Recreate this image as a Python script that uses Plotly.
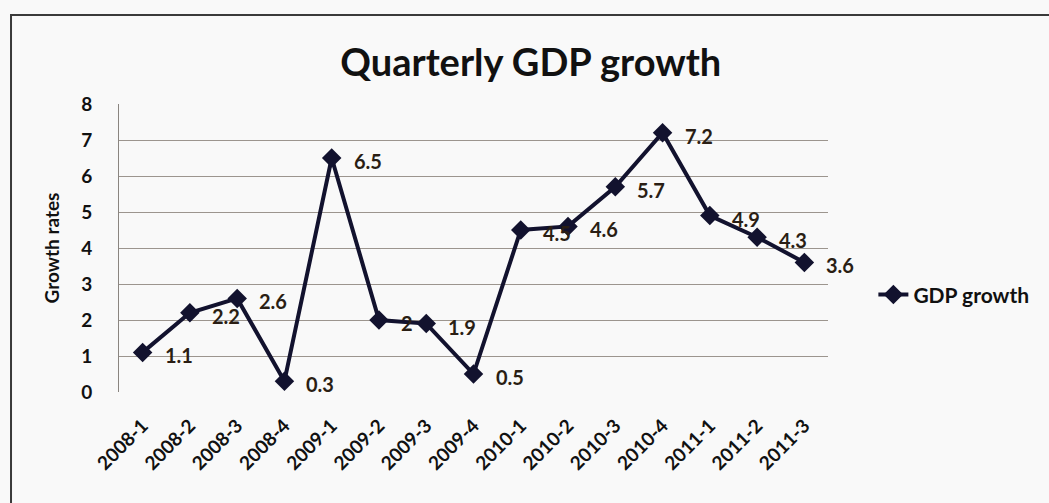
import plotly.graph_objects as go

# Quarterly GDP growth, 2008 Q1 - 2011 Q3
quarters = ["2008-1", "2008-2", "2008-3", "2008-4",
            "2009-1", "2009-2", "2009-3", "2009-4",
            "2010-1", "2010-2", "2010-3", "2010-4",
            "2011-1", "2011-2", "2011-3"]
gdp_growth = [1.1, 2.2, 2.6, 0.3, 6.5, 2, 1.9, 0.5,
              4.5, 4.6, 5.7, 7.2, 4.9, 4.3, 3.6]
y_ticks = [0, 1, 2, 3, 4, 5, 6, 7, 8]

FONT = "Lato"
INK = "#111111"
LINE = "#12122e"
BG = "#f9f9f9"

fig = go.Figure()
fig.add_trace(go.Scatter(
    x=quarters, y=gdp_growth, mode="lines+markers", name="GDP growth",
    line=dict(color=LINE, width=4),
    marker=dict(symbol="diamond", size=15, color=LINE),
))

# value labels to the right of each point
for q, v in zip(quarters, gdp_growth):
    fig.add_annotation(
        x=q, y=v, text=f"{v:g}", showarrow=False,
        xanchor="left", yanchor="middle", xshift=20, yshift=-3,
        font=dict(family=FONT, size=20, color="#2a1e14", weight="bold"),
    )

# chart frame (left and top edges)
fig.add_shape(type="path", xref="paper", yref="paper",
              path="M -0.1523 -1 L -0.1523 1.309 L 1.6 1.309",
              line=dict(color="#3a3a3a", width=2))

fig.update_layout(
    width=1049, height=503,
    margin=dict(l=119, r=221, t=104, b=111),
    paper_bgcolor=BG, plot_bgcolor=BG,
    title=dict(text="Quarterly GDP growth", x=0.506, xanchor="center",
               yref="container", y=0.876, yanchor="middle",
               font=dict(family=FONT, size=38, color=INK, weight="bold")),
    showlegend=True,
    legend=dict(x=1.064, xanchor="left", y=0.337, yanchor="middle",
                bgcolor="rgba(0,0,0,0)",
                font=dict(family=FONT, size=21, color=INK, weight="bold")),
    xaxis=dict(
        type="category", range=[-0.5, 14.5],
        showgrid=False, zeroline=False, showline=False,
        tickangle=-45, ticks="", ticklabelstandoff=18,
        tickfont=dict(family=FONT, size=19, color=INK, weight="bold"),
    ),
    yaxis=dict(
        range=[0, 8], tickvals=y_ticks, zeroline=False,
        showgrid=True, gridcolor="#9c958e", gridwidth=1,
        showline=True, linecolor="#8a8580", linewidth=1,
        ticks="", ticklabelstandoff=22,
        tickfont=dict(family=FONT, size=19, color=INK, weight="bold"),
        title=dict(text="Growth rates", standoff=16,
                   font=dict(family=FONT, size=19, color=INK, weight="bold")),
    ),
)

fig.write_html("out.html")
